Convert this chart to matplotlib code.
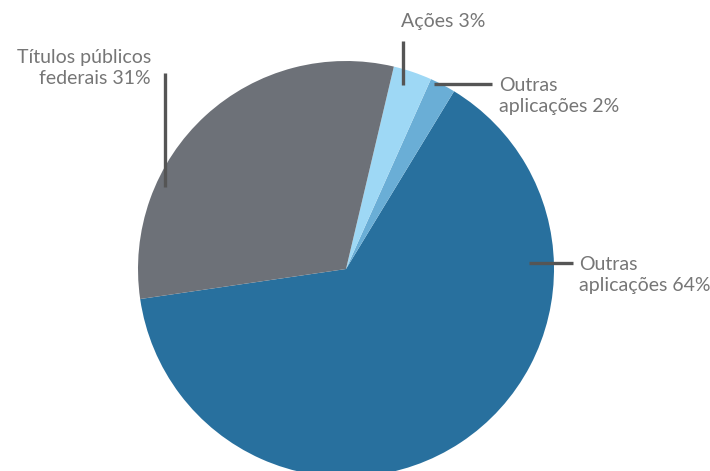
import matplotlib
matplotlib.use("Agg")
import matplotlib.pyplot as plt

# slice data (counterclockwise from the left boundary)
labels = ["Outras\naplicações 64%", "Outras\naplicações 2%", "Ações 3%", "Títulos públicos\nfederais 31%"]
values = [64, 2, 3, 31]
colors = ["#28709E", "#6AAED6", "#9ED8F5", "#6D7178"]

W, H = 710, 471
fig = plt.figure(figsize=(W / 100, H / 100), dpi=100)
ax = fig.add_axes([0, 0, 1, 1])

# pie centre / radius in pixel units (y measured from top of image)
cx, cy, r = 346, 269, 208
ax.pie(values, colors=colors, startangle=188.3, counterclock=True,
       center=(cx, H - cy), radius=r, frame=True,
       wedgeprops=dict(linewidth=0))

ax.set_xlim(0, W)
ax.set_ylim(0, H)
ax.set_aspect("equal")
ax.axis("off")

txt = dict(color="#767676", fontsize=14,
           family=["Lato", "DejaVu Sans"], linespacing=1.25)
line = dict(color="#555555", lw=2.4, solid_capstyle="butt")

def Y(py):
    return H - py

# Títulos públicos federais
ax.plot([165, 165], [Y(73), Y(187)], **line)
ax.text(151, Y(68), labels[3], ha="right", va="center", **txt)

# Ações
ax.plot([403, 403], [Y(41), Y(85)], **line)
ax.text(401, Y(22), labels[2], ha="left", va="center", **txt)

# Outras aplicações 2%
ax.plot([434, 492], [Y(84), Y(84)], **line)
ax.text(499, Y(96), labels[1], ha="left", va="center", **txt)

# Outras aplicações 64%
ax.plot([529, 573], [Y(263), Y(263)], **line)
ax.text(579, Y(275), labels[0], ha="left", va="center", **txt)

fig.savefig("out.png", dpi=100)
